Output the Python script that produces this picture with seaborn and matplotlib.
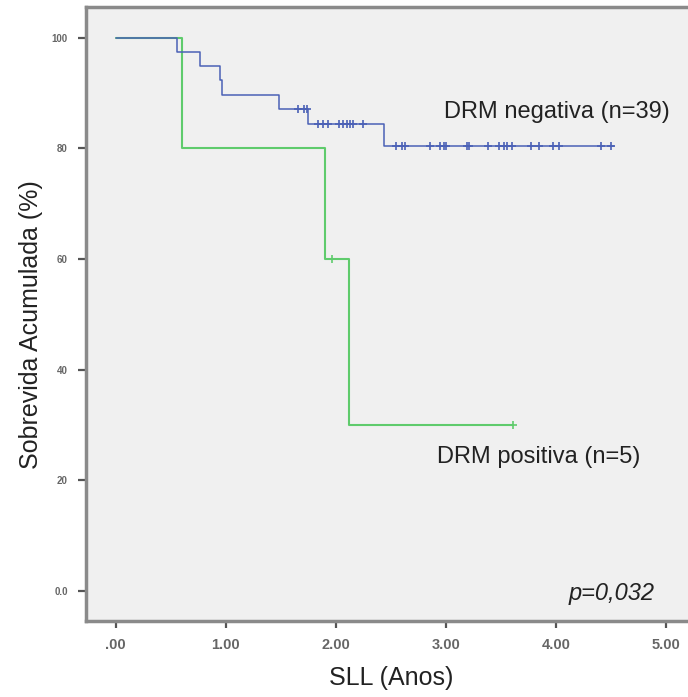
import numpy as np
import pandas as pd
import matplotlib
matplotlib.use("Agg")
import matplotlib.pyplot as plt
import seaborn as sns

# Kaplan-Meier curves (years, % survival)
neg_step_t = [0.00, 0.56, 0.77, 0.95, 0.97, 1.48, 1.75, 2.44, 4.53]
neg_step_s = [100.0, 97.4, 94.9, 92.3, 89.7, 87.2, 84.4, 80.4, 80.4]
neg_censor_t = [1.66, 1.71, 1.74,
                1.84, 1.88, 1.93, 2.03, 2.07, 2.10, 2.13, 2.16, 2.25,
                2.55, 2.60, 2.63, 2.86, 2.95, 2.98, 3.00, 3.19, 3.21, 3.38,
                3.48, 3.53, 3.56, 3.60, 3.77, 3.85, 3.97, 4.03, 4.41, 4.50]

pos_step_t = [0.00, 0.60, 1.90, 2.12, 3.61]
pos_step_s = [100.0, 80.0, 60.0, 30.0, 30.0]
pos_censor_t = [1.97, 3.61]

x_ticks = [0, 1, 2, 3, 4, 5]
x_labels = [".00", "1.00", "2.00", "3.00", "4.00", "5.00"]
y_ticks = [0, 20, 40, 60, 80, 100]
y_labels = ["0.0", "20", "40", "60", "80", "100"]

blue = "#4b61b6"
green = "#5fcb6c"

sns.set_style("white", {"axes.facecolor": "#f0f0f0"})
plt.rcParams["font.family"] = ["Liberation Sans", "DejaVu Sans"]

fig = plt.figure(figsize=(6.88, 6.97), dpi=100)
ax = fig.add_axes([0.125, 0.109, 0.878, 0.881])


def level_at(times, steps_t, steps_s):
    idx = np.searchsorted(steps_t, times, side="right") - 1
    return np.asarray(steps_s)[idx]


neg = pd.DataFrame({"t": neg_step_t, "s": neg_step_s})
pos = pd.DataFrame({"t": pos_step_t, "s": pos_step_s})
sns.lineplot(data=neg, x="t", y="s", drawstyle="steps-post", color=blue,
             lw=1.1, ax=ax, zorder=3)
sns.lineplot(data=pos, x="t", y="s", drawstyle="steps-post", color=green,
             lw=1.5, ax=ax, zorder=2)

negc = pd.DataFrame({"t": neg_censor_t,
                     "s": level_at(neg_censor_t, neg_step_t, neg_step_s)})
posc = pd.DataFrame({"t": pos_censor_t,
                     "s": level_at(pos_censor_t, pos_step_t, pos_step_s)})
sns.scatterplot(data=negc, x="t", y="s", marker="+", s=40, color=blue,
                linewidth=1.2, ax=ax, zorder=4)
sns.scatterplot(data=posc, x="t", y="s", marker="+", s=40, color=green,
                linewidth=1.2, ax=ax, zorder=4)

ax.set_xlim(-0.27, 5.22)
ax.set_ylim(-5.5, 105.6)
ax.set_xticks(x_ticks)
ax.set_xticklabels(x_labels)
ax.set_yticks(y_ticks)
ax.set_yticklabels(y_labels)
ax.tick_params(bottom=True, left=True, direction="out", width=1.6,
               color="#555555", labelcolor="#666666")
ax.tick_params(axis="x", length=5, pad=7, labelsize=10.5)
ax.tick_params(axis="y", length=6, pad=7, labelsize=7)
for lab in ax.get_xticklabels() + ax.get_yticklabels():
    lab.set_fontweight("bold")

for side in ["top", "left", "bottom", "right"]:
    ax.spines[side].set_color("#8a8a8a")
    ax.spines[side].set_linewidth(2.5)

ax.set_xlabel("SLL (Anos)", fontsize=18, color="#222222")
ax.xaxis.set_label_coords(0.506, -0.073)
ax.set_ylabel("Sobrevida Acumulada (%)", fontsize=18, color="#222222")
ax.yaxis.set_label_coords(-0.071, 0.482)

ax.text(2.98, 86.6, "DRM negativa (n=39)", fontsize=17, color="#222222",
        va="center")
ax.text(2.92, 24.2, "DRM positiva (n=5)", fontsize=17, color="#222222",
        va="center")
ax.text(4.12, -0.5, "p=0,032", fontsize=17, color="#222222",
        va="center", style="italic")

fig.savefig("out.png", dpi=100)
